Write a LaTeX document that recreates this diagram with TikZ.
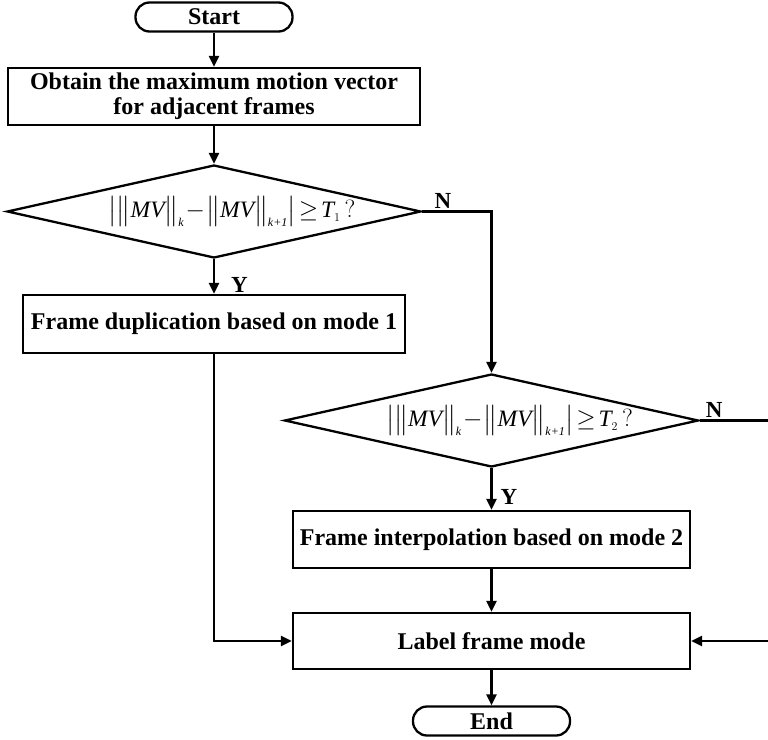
\documentclass[tikz,border=0pt]{standalone}
\usepackage{amsmath}
\usepackage{fontspec}
\setmainfont{Liberation Serif}
\usetikzlibrary{shapes.geometric}
\usetikzlibrary{arrows.meta}

\DeclareMathSizes{23.5}{23.5}{12}{9}
\newcommand{\mvnorm}[1]{\bigl\|\textit{MV}\bigr\|_{\textit{#1}}}

\begin{document}
\begin{tikzpicture}[x=1pt, y=-1pt, line width=2.3pt,
    box/.style={draw, rectangle, inner sep=0pt, align=center,
        font=\bfseries\fontsize{24}{25}\selectfont},
    term/.style={draw, rectangle, rounded corners=14pt, inner sep=0pt,
        minimum width=157pt, minimum height=29pt,
        font=\bfseries\fontsize{24}{25}\selectfont},
    decision/.style={draw, diamond, inner sep=-12pt, shape aspect=4.45,
        minimum width=414pt, minimum height=93pt,
        font=\fontsize{23.5}{26}\selectfont},
    arr/.style={-{Triangle[length=11pt,width=10pt]}},
    yn/.style={font=\bfseries\fontsize{23}{25}\selectfont, inner sep=2pt}]

    \useasboundingbox (0,0) rectangle (768,739);

    \node[term] (start) at (214,17) {Start};
    \node[box, minimum width=412pt, minimum height=57pt] (obtain) at (214,96.5)
        {Obtain the maximum motion vector\\for adjacent frames};
    \node[decision] (dec1) at (214,211.5)
        {\hspace*{36pt}$\bigl|\mvnorm{k}\!-\!\mvnorm{k+1}\bigr|\!\geq\! \textit{T}_{1}\,?$};
    \node[box, minimum width=382pt, minimum height=58pt] (dup) at (214,324)
        {Frame duplication based on mode 1};
    \node[decision] (dec2) at (491.5,420.5)
        {\hspace*{36pt}$\bigl|\mvnorm{k}\!-\!\mvnorm{k+1}\bigr|\!\geq\! \textit{T}_{2}\,?$};
    \node[box, minimum width=397pt, minimum height=57pt] (interp) at (491.5,539.5)
        {Frame interpolation based on mode 2};
    \node[box, minimum width=397pt, minimum height=56pt] (label) at (491.5,641)
        {Label frame mode};
    \node[term] (end) at (491.5,721) {End};

    \coordinate (turn1) at (dec2.north |- dec1.east);
    \coordinate (turn2) at (769,420.5);

    \draw[arr] (start.south) -- (obtain.north);
    \draw[arr] (obtain.south) -- (dec1.north);
    \draw[arr] (dec1.east) -- node[yn, above, pos=0.3] {N} (turn1) -- (dec2.north);
    \draw[arr] (dec1.south) -- node[yn, right, pos=0.73, xshift=14pt] {Y} (dup.north);
    \draw[arr] (dec2.east) -- node[yn, above, pos=0.21] {N} (turn2)
        -- (turn2 |- label.east) -- (label.east);
    \draw[arr] (dec2.south) -- node[yn, right, pos=0.7, xshift=6pt] {Y} (interp.north);
    \draw[arr] (dup.south) |- (label.west);
    \draw[arr] (interp.south) -- (label.north);
    \draw[arr] (label.south) -- (end.north);

\end{tikzpicture}
\end{document}
